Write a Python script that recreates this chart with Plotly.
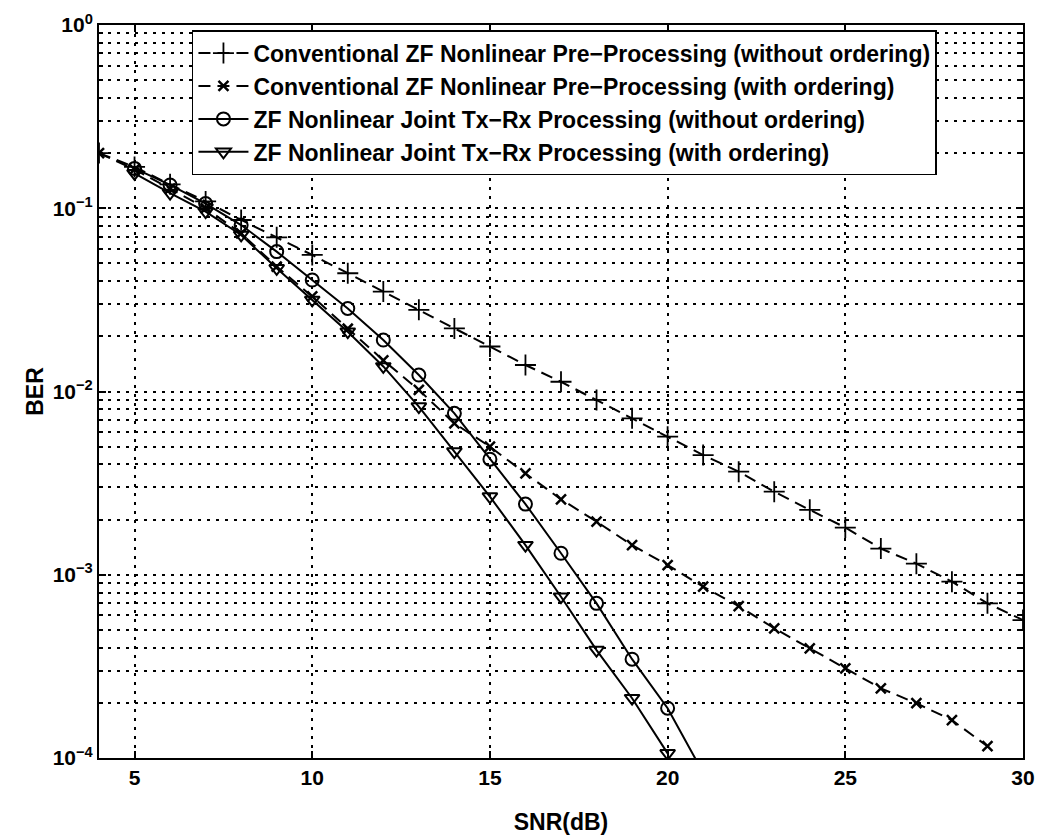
import plotly.graph_objects as go

snr = list(range(4, 31))

# Conventional ZF Nonlinear Pre-Processing (without ordering)
ber_conv_noord = [0.2, 0.168, 0.135, 0.109, 0.0863, 0.0694, 0.0556, 0.0442, 0.0351, 0.0279,
                  0.0221, 0.0176, 0.01395, 0.0113, 0.0090, 0.00714, 0.00567, 0.00450, 0.00365,
                  0.00284, 0.00226, 0.00181, 0.00139, 0.00115, 0.000917, 0.000698, 0.000566]
# Conventional ZF Nonlinear Pre-Processing (with ordering)
snr_conv_ord = list(range(4, 30))
ber_conv_ord = [0.2, 0.163, 0.128, 0.100, 0.073, 0.048, 0.033, 0.022, 0.0148, 0.0102,
                0.0067, 0.0050, 0.00357, 0.00258, 0.00195, 0.00145, 0.00113, 0.000861,
                0.000675, 0.000510, 0.000397, 0.000308, 0.000240, 0.000199, 0.000161, 0.000116]

# ZF Nonlinear Joint Tx-Rx Processing (without ordering)
snr_joint = list(range(5, 22))
ber_joint_noord = [0.165, 0.134, 0.106, 0.081, 0.058, 0.0406, 0.0284, 0.0191, 0.0123, 0.0076,
                   0.00427, 0.00243, 0.00131, 0.000698, 0.000346, 0.000187, 0.000083]
# ZF Nonlinear Joint Tx-Rx Processing (with ordering)
snr_joint_ord = list(range(5, 21))
ber_joint_ord = [0.155, 0.121, 0.0958, 0.0715, 0.047, 0.0316, 0.0212, 0.0137, 0.00827, 0.0047,
                 0.00267, 0.00145, 0.000759, 0.000388, 0.000212, 0.000106]

names = [
    "Conventional ZF Nonlinear Pre\u2212Processing (without ordering)",
    "Conventional ZF Nonlinear Pre\u2212Processing (with ordering)",
    "ZF Nonlinear Joint Tx\u2212Rx Processing (without ordering)",
    "ZF Nonlinear Joint Tx\u2212Rx Processing (with ordering)",
]

x_ticks = [5, 10, 15, 20, 25, 30]
y_ticks = [1e-4, 1e-3, 1e-2, 1e-1, 1e0]
y_ticktext = ["10<sup>\u22124</sup>", "10<sup>\u22123</sup>", "10<sup>\u22122</sup>",
              "10<sup>\u22121</sup>", "10<sup>0</sup>"]
y_minor = [m * 10 ** e for e in range(-4, 0) for m in range(2, 10)]

DASH = "12px,7px"
GRID_DASH = "3px,6px"

fig = go.Figure()
fig.add_trace(go.Scatter(x=snr, y=ber_conv_noord, name=names[0], mode="lines+markers",
                         line=dict(color="black", width=2, dash=DASH),
                         marker=dict(symbol="cross-thin", size=15, line=dict(color="black", width=1.8))))
fig.add_trace(go.Scatter(x=snr_conv_ord, y=ber_conv_ord, name=names[1], mode="lines+markers",
                         line=dict(color="black", width=2, dash=DASH),
                         marker=dict(symbol="x-thin", size=10, line=dict(color="black", width=2.5))))
fig.add_trace(go.Scatter(x=snr_joint, y=ber_joint_noord, name=names[2], mode="lines+markers",
                         line=dict(color="black", width=2),
                         marker=dict(symbol="circle-open", size=13, color="black", line=dict(width=2))))
fig.add_trace(go.Scatter(x=snr_joint_ord, y=ber_joint_ord, name=names[3], mode="lines+markers",
                         line=dict(color="black", width=2),
                         marker=dict(symbol="triangle-down-open", size=13, color="black", line=dict(width=2))))

tick_font = dict(family="Liberation Sans", size=21, color="black", weight="bold")
title_font = dict(family="Liberation Sans", size=23, color="black", weight="bold")

fig.update_layout(
    width=1037, height=836,
    margin=dict(l=99, r=14, t=25, b=78),
    paper_bgcolor="white", plot_bgcolor="white",
    font=dict(family="Liberation Sans", color="black"),
    showlegend=True,
    legend=dict(x=0.1006, y=0.993, xanchor="left", yanchor="top",
                bgcolor="white", bordercolor="black", borderwidth=1.5,
                font=dict(family="Liberation Sans", size=23, color="black", weight="bold"),
                tracegroupgap=0, itemwidth=50),
    xaxis=dict(range=[4, 30], tickvals=x_ticks, ticks="inside", ticklen=7, tickwidth=1.5,
               tickcolor="black", showline=True, linecolor="black", linewidth=2, mirror="allticks",
               showgrid=True, gridcolor="black", gridwidth=1.5, griddash=GRID_DASH,
               tickfont=tick_font, zeroline=False, automargin=False,
               title=dict(text="SNR(dB)", font=title_font, standoff=26)),
    yaxis=dict(type="log", range=[-4, 0], tickvals=y_ticks, ticktext=y_ticktext,
               ticks="inside", ticklen=7, tickwidth=1.5, tickcolor="black",
               showline=True, linecolor="black", linewidth=2, mirror="allticks",
               showgrid=True, gridcolor="black", gridwidth=1.5, griddash=GRID_DASH,
               tickfont=tick_font, zeroline=False, automargin=False,
               minor=dict(tickvals=y_minor, ticks="inside", ticklen=4, tickcolor="black",
                          showgrid=True, gridcolor="black", gridwidth=1.5, griddash=GRID_DASH),
               title=dict(text="BER", font=title_font, standoff=3)),
)

# remove the browser's default 8px body margin so the figure fills the window exactly
fig.write_html("out.html",
               config={"displayModeBar": False},
               post_script="document.body.style.margin='0';document.body.style.overflow='hidden';")
